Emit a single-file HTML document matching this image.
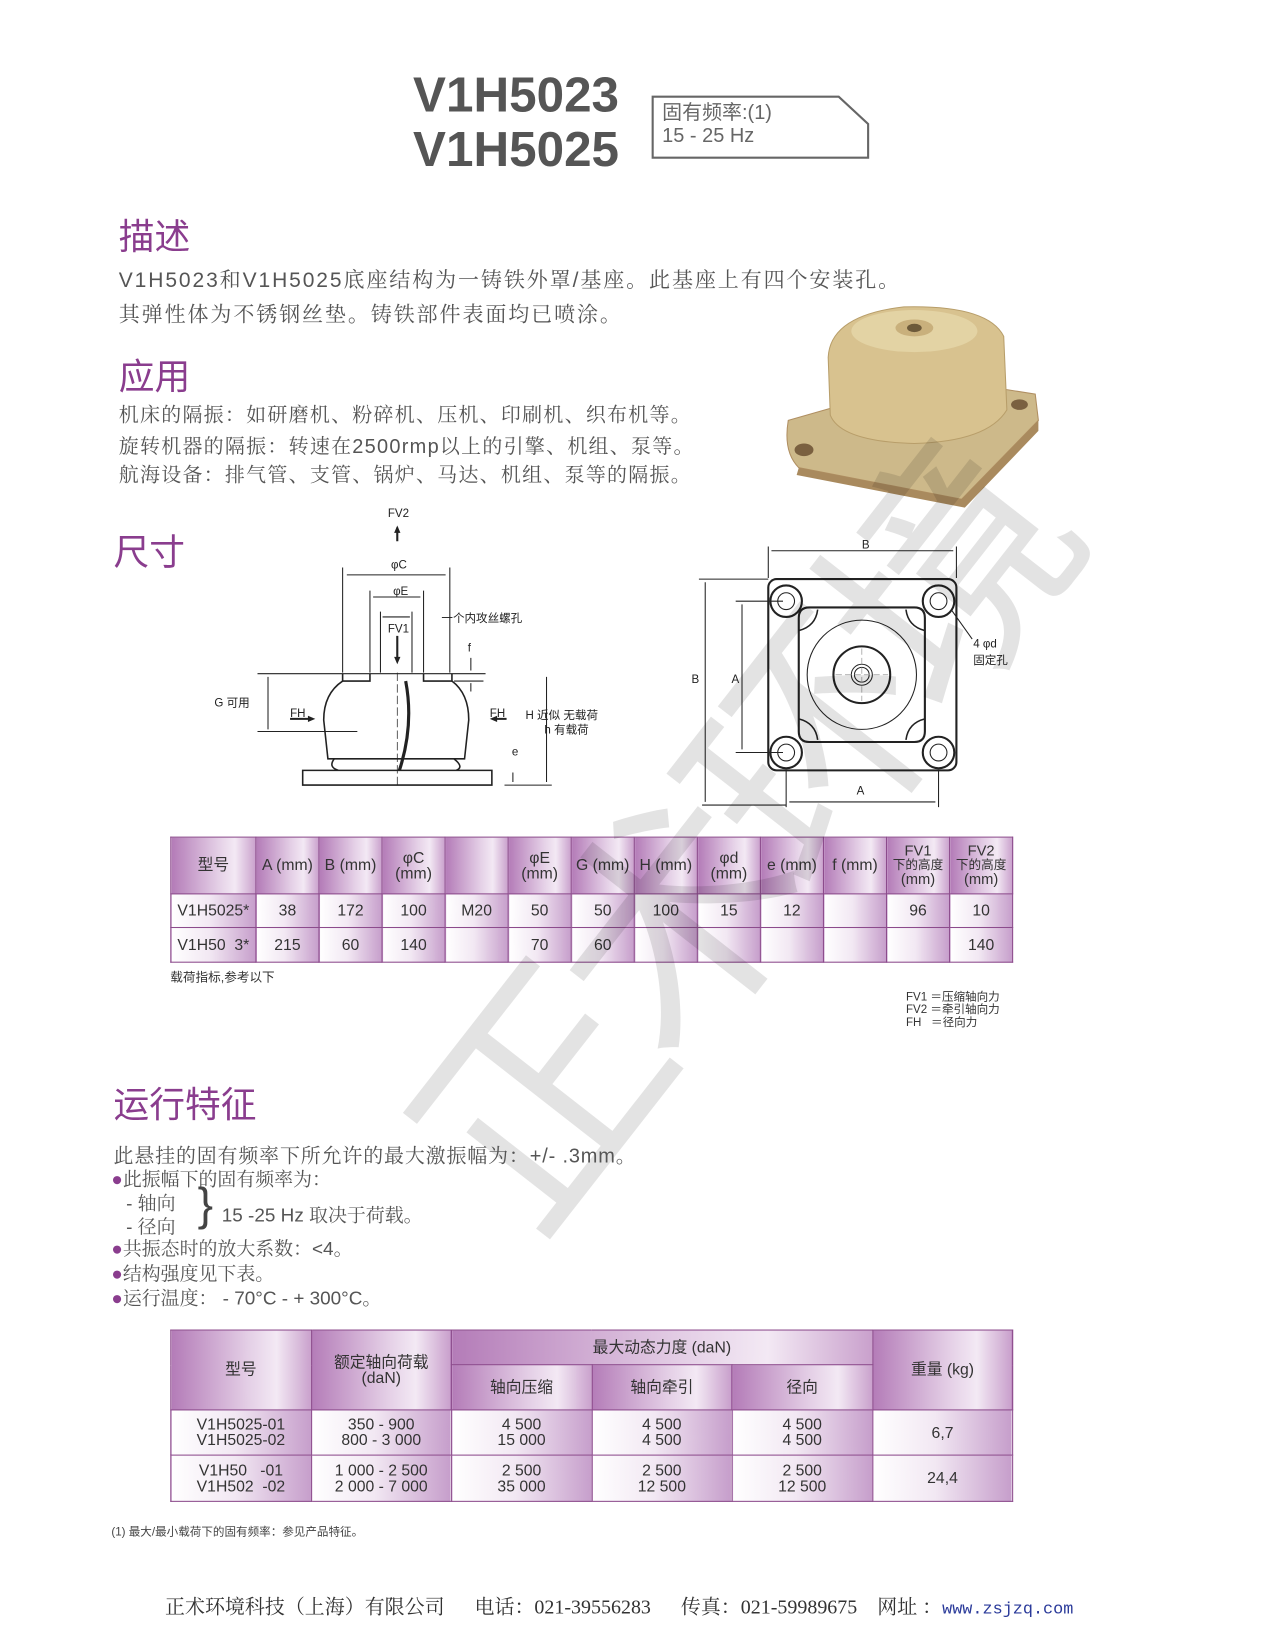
<!DOCTYPE html>
<html><head><meta charset="utf-8">
<style>
html,body{margin:0;padding:0;background:#fff;}
body{width:1275px;height:1650px;overflow:hidden;position:relative;}
#w{position:absolute;left:0;top:0;width:1213px;height:1570px;transform:scale(1.051);transform-origin:0 0;font-family:"Liberation Sans","Noto Sans CJK SC",sans-serif;color:#555;}
.a{position:absolute;white-space:nowrap;}
.h{color:#8a3d8e;font-size:34px;}
.t{font-size:19px;color:#555;font-family:"Liberation Sans","Noto Serif CJK SC",serif;}
table{position:absolute;border-collapse:collapse;table-layout:fixed;font-family:"Liberation Sans","Noto Sans CJK SC",sans-serif;color:#333;}
td{border:1.5px solid #8c4b8c;text-align:center;padding:0;font-size:15px;line-height:15px;}
.hd{background:linear-gradient(90deg,#b47cb8,#e4cfe6 55%,#f3e9f4 75%,#c9a0cc);}
.dd{background:linear-gradient(90deg,#fff,#f2e8f3 45%,#c69ecb);}
</style></head><body><div id="w">

<div class="a" style="left:393px;top:64px;font-size:47px;font-weight:bold;color:#555;line-height:52px;">V1H5023<br>V1H5025</div>
<svg class="a" style="left:618px;top:89px" width="212" height="66"><path d="M3 3 H180 L208 29 V61 H3 Z" fill="none" stroke="#666" stroke-width="2"/></svg>
<div class="a" style="left:630px;top:97px;font-size:19px;line-height:22px;color:#666;">固有频率:(1)<br>15 - 25 Hz</div>

<div class="a h" style="left:113px;top:198px;">描述</div>
<div class="a t" style="left:113px;top:250px;font-size:20px;letter-spacing:1.8px;">V1H5023和V1H5025底座结构为一铸铁外罩/基座。此基座上有四个安装孔。</div>
<div class="a t" style="left:113px;top:283px;font-size:20px;letter-spacing:1.8px;">其弹性体为不锈钢丝垫。铸铁部件表面均已喷涂。</div>

<div class="a h" style="left:113px;top:331px;">应用</div>
<div class="a t" style="left:113px;top:380px;letter-spacing:1.2px;">机床的隔振：如研磨机、粉碎机、压机、印刷机、织布机等。</div>
<div class="a t" style="left:113px;top:410px;letter-spacing:1.2px;">旋转机器的隔振：转速在2500rmp以上的引擎、机组、泵等。</div>
<div class="a t" style="left:113px;top:437px;letter-spacing:1.2px;">航海设备：排气管、支管、锅炉、马达、机组、泵等的隔振。</div>

<svg class="a" style="left:740px;top:280px" width="255" height="205">
<path d="M10 120 L150 80 L245 95 L248 120 L175 195 L20 165 Q5 150 10 120Z" fill="#cdb98a" stroke="#b08f62"/>
<path d="M20 165 L175 195 L248 120 L248 130 L178 203 L18 172Z" fill="#a98a5e"/>
<path d="M48 60 Q50 20 120 12 Q200 10 215 40 L218 110 Q200 140 130 142 Q60 140 50 115Z" fill="#d8c28f" stroke="#b89e6a"/>
<ellipse cx="130" cy="35" rx="60" ry="20" fill="#e3d3a4"/>
<ellipse cx="130" cy="32" rx="18" ry="8" fill="#c9b07c"/><ellipse cx="130" cy="32" rx="7" ry="4" fill="#6d5a3a"/>
<ellipse cx="25" cy="148" rx="9" ry="6" fill="#7a6040"/><ellipse cx="230" cy="105" rx="8" ry="5" fill="#7a6040"/>
</svg>

<div class="a h" style="left:108px;top:498px;">尺寸</div>

<svg class="a" style="left:0;top:0" width="1000" height="790" font-family="Liberation Sans,Noto Sans CJK SC,sans-serif" font-size="11" fill="none" stroke="#222" stroke-width="1">
<g fill="#222" stroke="none">
<text x="369" y="492">FV2</text><text x="372" y="541">φC</text><text x="374" y="566">φE</text>
<text x="420" y="592">一个内攻丝螺孔</text><text x="369" y="602">FV1</text><text x="445" y="620">f</text>
<text x="204" y="672">G 可用</text><text x="276" y="682">FH</text><text x="466" y="682">FH</text>
<text x="500" y="684">H 近似  无载荷</text><text x="518" y="698">h 有载荷</text><text x="487" y="719">e</text>
<text x="820" y="522">B</text><text x="658" y="650">B</text><text x="696" y="650">A</text><text x="815" y="756">A</text>
<text x="926" y="616">4  φd</text><text x="926" y="632">固定孔</text>
<path d="M378 500 l-3 7 h6z M378 632 l-3 -7 h6z M300 684 l-7 -3 v6z M466 684 l7 -3 v6z"/>
</g>
<path d="M378 515 V502 M378 605 V628 M276 684 H296 M470 684 H482" stroke-width="2"/>
<path d="M326 540 V640 M428 540 V640 M330 547 H424 M352 562 V640 M403 562 V640 M355 568 H400 M362 582 V640 M392 582 V640 M364 587 H390 M245 641 H462 M432 648 H460 M255 644 V694 M245 696 H340 M448 626 V638 M448 650 V658 M520 644 V744 M488 735 V744 M480 747 H525"/>
<path d="M326 641 V648 H352 V641 M403 641 V648 H430 V641" stroke-width="1.5"/>
<path d="M326 648 Q308 660 308 685 L312 722 H442 L446 685 Q446 660 430 648" stroke-width="1.5"/>
<path d="M318 722 Q312 730 322 733 M432 722 Q442 730 434 733 M288 733 H468 V747 H288 Z" stroke-width="1.5"/>
<path d="M386 648 Q394 690 380 733" stroke-width="3"/>
<path d="M378 640 V750" stroke-dasharray="8 3" stroke-width="0.7"/>
<rect x="731" y="551" width="179" height="182" rx="8" stroke-width="2"/>
<path d="M760 588 Q760 578 770 578 H870 Q880 578 880 588 V696 Q880 706 870 706 H770 Q760 706 760 696Z" stroke-width="2"/>
<circle cx="820" cy="642" r="52"/><circle cx="820" cy="642" r="27" stroke-width="2"/><circle cx="820" cy="642" r="10"/><circle cx="820" cy="642" r="7"/>
<g stroke-width="2"><circle cx="748" cy="572" r="15"/><circle cx="893" cy="572" r="15"/><circle cx="748" cy="716" r="15"/><circle cx="893" cy="716" r="15"/></g>
<g><circle cx="748" cy="572" r="8"/><circle cx="893" cy="572" r="8"/><circle cx="748" cy="716" r="8"/><circle cx="893" cy="716" r="8"/></g>
<path d="M731 520 V550 M910 520 V550 M734 524 H907 M665 551 H731 M668 766 H748 M671 554 V763 M700 572 H745 M700 716 H745 M706 575 V713 M748 733 V768 M893 733 V768 M751 763 H890 M905 580 L925 608"/>
<path d="M760 600 Q776 596 778 580 M880 600 Q864 596 862 580 M760 684 Q776 688 778 704 M880 684 Q864 688 862 704" stroke-width="1.5"/>
<path d="M795 642 H845 M820 617 V667" stroke="#999" stroke-dasharray="6 3" stroke-width="0.7"/>
</svg>

<table style="left:162px;top:796px;width:801px;height:119px;">
<col style="width:81px"><col span="12" style="width:60px">
<tr style="height:54px"><td class="hd">型号</td><td class="hd">A (mm)</td><td class="hd">B (mm)</td><td class="hd">φC<br>(mm)</td><td class="hd"></td><td class="hd">φE<br>(mm)</td><td class="hd">G (mm)</td><td class="hd">H (mm)</td><td class="hd">φd<br>(mm)</td><td class="hd">e (mm)</td><td class="hd">f (mm)</td><td class="hd" style="font-size:12px;line-height:13px"><span style="font-size:14px">FV1</span><br>下的高度<br><span style="font-size:14px">(mm)</span></td><td class="hd" style="font-size:12px;line-height:13px"><span style="font-size:14px">FV2</span><br>下的高度<br><span style="font-size:14px">(mm)</span></td></tr>
<tr style="height:32px"><td class="dd">V1H5025*</td><td class="dd">38</td><td class="dd">172</td><td class="dd">100</td><td class="dd">M20</td><td class="dd">50</td><td class="dd">50</td><td class="dd">100</td><td class="dd">15</td><td class="dd">12</td><td class="dd"></td><td class="dd">96</td><td class="dd">10</td></tr>
<tr style="height:33px"><td class="dd">V1H50&nbsp;&nbsp;3*</td><td class="dd">215</td><td class="dd">60</td><td class="dd">140</td><td class="dd"></td><td class="dd">70</td><td class="dd">60</td><td class="dd"></td><td class="dd"></td><td class="dd"></td><td class="dd"></td><td class="dd"></td><td class="dd">140</td></tr>
</table>
<div class="a" style="left:162px;top:921px;font-size:12px;color:#333;">载荷指标,参考以下</div>
<div class="a" style="left:862px;top:943px;font-size:11px;line-height:12px;color:#333;">FV1 ＝压缩轴向力<br>FV2 ＝牵引轴向力<br>FH&nbsp;&nbsp;&nbsp;＝径向力</div>

<div class="a" style="font-size:230px;color:rgba(0,0,0,0.11);transform:rotate(-52deg);transform-origin:0 0;top:1020px;left:300px;letter-spacing:-20px;font-family:'Noto Sans CJK SC',sans-serif;">正术环境</div>

<div class="a h" style="left:108px;top:1024px;">运行特征</div>
<div class="a t" style="left:108px;top:1085px;letter-spacing:0.8px;">此悬挂的固有频率下所允许的最大激振幅为：+/-  .3mm。</div>
<div class="a t" style="left:106px;top:1108px;font-size:18px;"><span style="color:#8a3d8e">●</span>此振幅下的固有频率为：</div>
<div class="a t" style="left:120px;top:1131px;font-size:18px;">- 轴向</div>
<div class="a t" style="left:120px;top:1153px;font-size:18px;">- 径向</div>
<div class="a" style="left:188px;top:1122px;font-size:44px;color:#444;">}</div>
<div class="a t" style="left:211px;top:1142px;font-size:18px;">15 -25 Hz 取决于荷载。</div>
<div class="a t" style="left:106px;top:1174px;font-size:18px;"><span style="color:#8a3d8e">●</span>共振态时的放大系数：&lt;4。</div>
<div class="a t" style="left:106px;top:1198px;font-size:18px;"><span style="color:#8a3d8e">●</span>结构强度见下表。</div>
<div class="a t" style="left:106px;top:1221px;font-size:18px;"><span style="color:#8a3d8e">●</span>运行温度：  - 70°C - + 300°C。</div>

<table style="left:162px;top:1265px;width:801px;height:163px;">
<col span="6" style="width:133.5px">
<tr style="height:33px"><td class="hd" rowspan="2">型号</td><td class="hd" rowspan="2">额定轴向荷载<br>(daN)</td><td class="hd" colspan="3">最大动态力度 (daN)</td><td class="hd" rowspan="2">重量 (kg)</td></tr>
<tr style="height:43px"><td class="hd">轴向压缩</td><td class="hd">轴向牵引</td><td class="hd">径向</td></tr>
<tr style="height:43px"><td class="dd">V1H5025-01<br>V1H5025-02</td><td class="dd">350 - 900<br>800 - 3 000</td><td class="dd">4 500<br>15 000</td><td class="dd">4 500<br>4 500</td><td class="dd">4 500<br>4 500</td><td class="dd">6,7</td></tr>
<tr style="height:44px"><td class="dd">V1H50&nbsp;&nbsp;&nbsp;-01<br>V1H502&nbsp;&nbsp;-02</td><td class="dd">1 000 - 2 500<br>2 000 - 7 000</td><td class="dd">2 500<br>35 000</td><td class="dd">2 500<br>12 500</td><td class="dd">2 500<br>12 500</td><td class="dd">24,4</td></tr>
</table>
<div class="a" style="left:106px;top:1449px;font-size:11px;color:#444;">(1) 最大/最小载荷下的固有频率：参见产品特征。</div>

<div class="a" style="left:157px;top:1514px;font-size:19px;color:#333;font-family:'Liberation Serif','Noto Serif CJK SC',serif;">正术环境科技（上海）有限公司&nbsp;&nbsp;&nbsp;&nbsp;&nbsp;&nbsp;电话：021-39556283&nbsp;&nbsp;&nbsp;&nbsp;&nbsp;&nbsp;传真：021-59989675&nbsp;&nbsp;&nbsp;&nbsp;网址 ：<span style="color:#2a3a9a;font-family:'Liberation Mono',monospace;font-size:16px;">www.zsjzq.com</span></div>
</div></body></html>
